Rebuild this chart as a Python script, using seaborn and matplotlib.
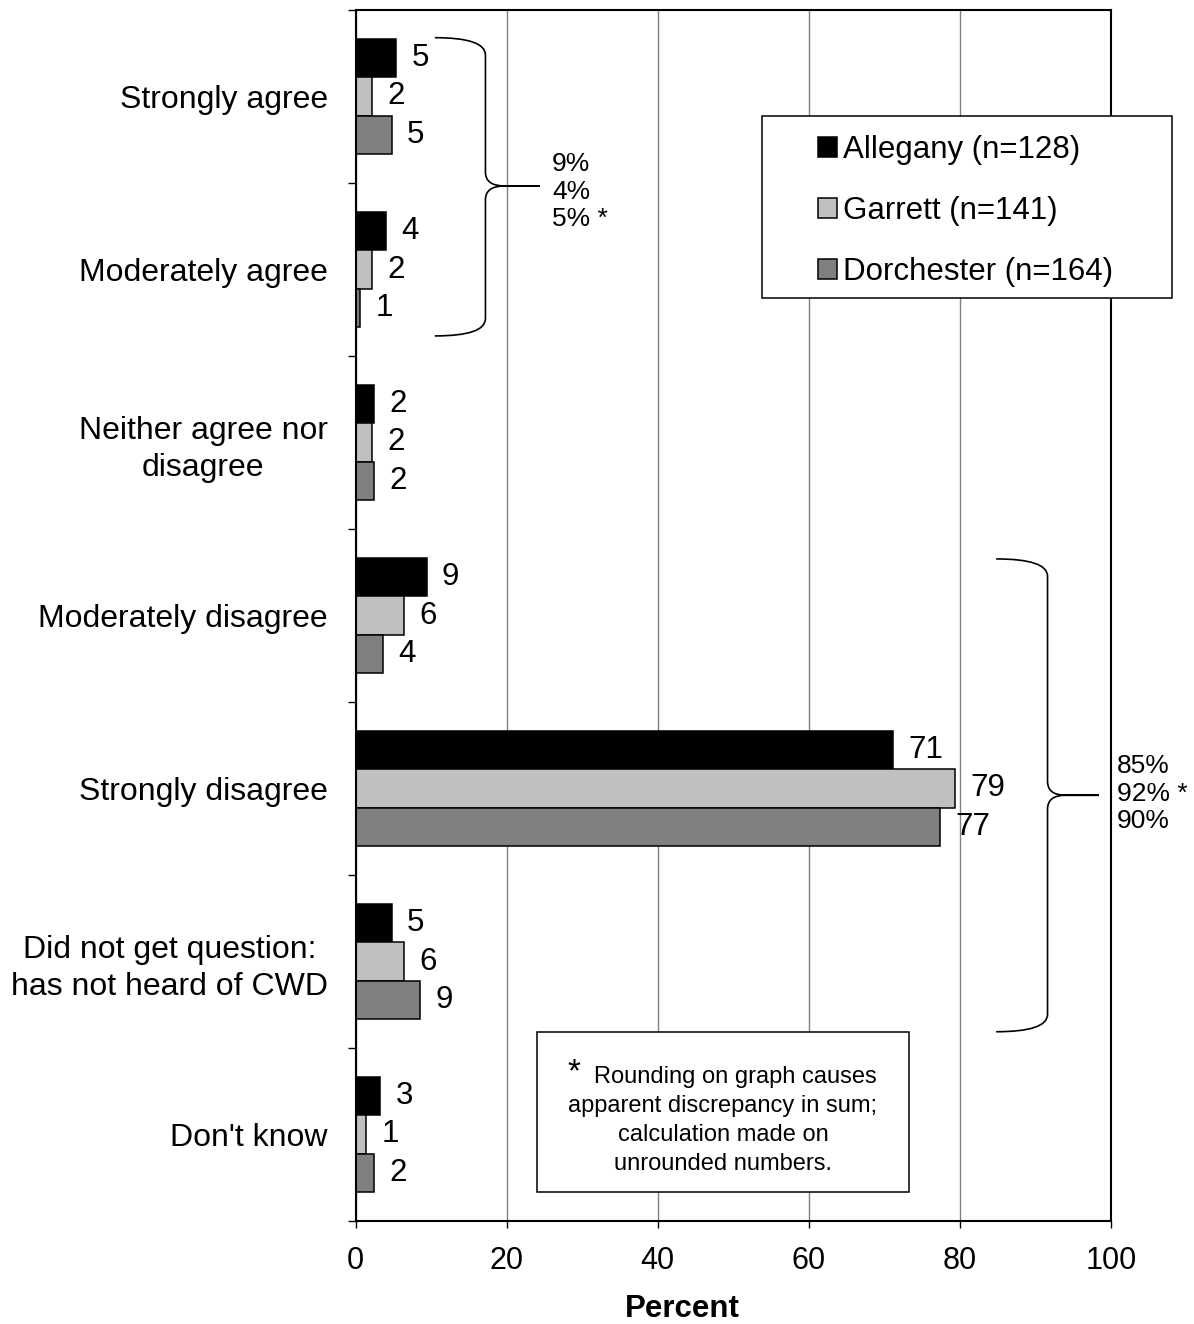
import numpy as np
import pandas as pd
import matplotlib
matplotlib.use('Agg')
import matplotlib.pyplot as plt
from matplotlib.path import Path
from matplotlib.patches import PathPatch, Rectangle
import seaborn as sns

# data (bar lengths are unrounded, labels are rounded)
categories = ['Strongly agree', 'Moderately agree', 'Neither agree nor\ndisagree',
              'Moderately disagree', 'Strongly disagree',
              'Did not get question:\nhas not heard of CWD', "Don't know"]
counties = ['Allegany', 'Garrett', 'Dorchester']
n_sizes = [128, 141, 164]
allegany = [5.4, 4.0, 2.5, 9.4, 71.1, 4.8, 3.3]
garrett = [2.2, 2.2, 2.2, 6.4, 79.4, 6.4, 1.4]
dorchester = [4.8, 0.6, 2.5, 3.7, 77.4, 8.6, 2.5]
allegany_lbl = ['5', '4', '2', '9', '71', '5', '3']
garrett_lbl = ['2', '2', '2', '6', '79', '6', '1']
dorchester_lbl = ['5', '1', '2', '4', '77', '9', '2']
agree_sums = ['9%', '4%', '5% *']
disagree_sums = ['85%', '92% *', '90%']
colors = ['#000000', '#c0c0c0', '#808080']
footnote = ['Rounding on graph causes', 'apparent discrepancy in sum;',
            'calculation made on', 'unrounded numbers.']

sns.set_theme(style='white')
plt.rcParams['font.family'] = ['Liberation Sans', 'DejaVu Sans']
plt.rcParams['text.color'] = 'black'
plt.rcParams['axes.labelcolor'] = 'black'
plt.rcParams['xtick.color'] = 'black'
plt.rcParams['ytick.color'] = 'black'

rows = []
for county, vals in zip(counties, [allegany, garrett, dorchester]):
    for cat, v in zip(categories, vals):
        rows.append({'response': cat, 'county': county, 'percent': v})
df = pd.DataFrame(rows)

W, H = 1194, 1324
fig = plt.figure(figsize=(W / 100, H / 100), dpi=100)
ax = fig.add_axes([355.5 / W, 1 - 1221 / H, 755.5 / W, 1211 / H])

sns.barplot(data=df, x='percent', y='response', hue='county', orient='h',
            palette=colors, saturation=1, width=0.67, edgecolor='black',
            linewidth=1.1, errorbar=None, legend=False, ax=ax)

for cont, lbls in zip(ax.containers, [allegany_lbl, garrett_lbl, dorchester_lbl]):
    ax.bar_label(cont, labels=lbls, padding=11, fontsize=22.5, color='black')

ax.set_xlim(0, 100)
ax.set_ylim(6.5, -0.5)
ax.set_xticks(range(0, 101, 20))
ax.set_yticks(range(len(categories)))
ax.set_yticklabels(categories, fontsize=23)
for lab in ax.get_yticklabels():
    lab.set_multialignment('center')
    lab.set_linespacing(1.3)
ax.set_yticks(np.arange(-0.5, len(categories), 1), minor=True)
ax.tick_params(axis='y', which='major', length=0, pad=20)
ax.tick_params(axis='y', which='minor', length=6, width=1, direction='out', color='black', left=True)
ax.tick_params(axis='x', length=5, width=1, direction='out', color='black', labelsize=22, pad=13, bottom=True)
ax.set_ylabel('')
ax.set_xlabel('Percent', fontsize=22.5, fontweight='bold')
ax.xaxis.set_label_coords((682 - 355.5) / 755.5, -(1309 - 1221) / 1211)
ax.xaxis.label.set_va('center')
ax.xaxis.grid(True, color='#808080', linewidth=1)
ax.yaxis.grid(False)
ax.set_axisbelow(True)
for s in ax.spines.values():
    s.set_color('black')
    s.set_linewidth(1.5)


def brace(ax, x0, x1, x2, yt, yb, ym, r=0.1, rt=0.08):
    xm = x1 + 0.35 * (x2 - x1)
    verts = [(x0, yt), (x1, yt), (x1, yt + r),
             (x1, ym - rt), (x1, ym), (xm, ym),
             (x2, ym), (xm, ym),
             (x1, ym), (x1, ym + rt),
             (x1, yb - r), (x1, yb), (x0, yb)]
    codes = [Path.MOVETO, Path.CURVE3, Path.CURVE3,
             Path.LINETO, Path.CURVE3, Path.CURVE3,
             Path.LINETO, Path.LINETO,
             Path.CURVE3, Path.CURVE3,
             Path.LINETO, Path.CURVE3, Path.CURVE3]
    ax.add_patch(PathPatch(Path(verts, codes), fill=False, lw=1.2,
                           edgecolor='black', clip_on=False, zorder=5))


brace(ax, 10.5, 17.2, 24.4, -0.34, 1.384, 0.517)
brace(ax, 84.8, 91.6, 98.4, 2.673, 5.406, 4.039)
ax.text(26.0, 0.55, '\n'.join(agree_sums), fontsize=19, va='center', ha='left', linespacing=1.2)
ax.text(100.8, 4.03, '\n'.join(disagree_sums), fontsize=19, va='center', ha='left', linespacing=1.2)

# legend with its own white box
fig.patches.append(Rectangle((762 / W, 1 - 298 / H), 410 / W, 182 / H, transform=fig.transFigure,
                             facecolor='white', edgecolor='black', lw=1.1, zorder=2))
handles = [c.patches[0] for c in ax.containers]
labels = [f'{c} (n={n})' for c, n in zip(counties, n_sizes)]
fig.legend(handles, labels, loc='center left', bbox_to_anchor=(818 / W, 1 - 211 / H),
           frameon=False, fontsize=22.5, handlelength=0.6, handleheight=0.6,
           handletextpad=0.2, labelspacing=0.98, borderpad=0, borderaxespad=0)

# footnote box
fig.patches.append(Rectangle((537 / W, 1 - 1192 / H), 372 / W, 160 / H, transform=fig.transFigure,
                             facecolor='white', edgecolor='black', lw=1.1, zorder=2))
fig.text(574 / W, 1 - 1081 / H, '*', fontsize=24, ha='center', va='baseline', zorder=3)
fig.text(735 / W, 1 - 1083 / H, footnote[0], fontsize=17, ha='center', va='baseline', zorder=3)
for i, line in enumerate(footnote[1:]):
    fig.text(723 / W, 1 - (1112 + 29 * i) / H, line, fontsize=17, ha='center', va='baseline', zorder=3)

fig.savefig('out.png', dpi=100)
